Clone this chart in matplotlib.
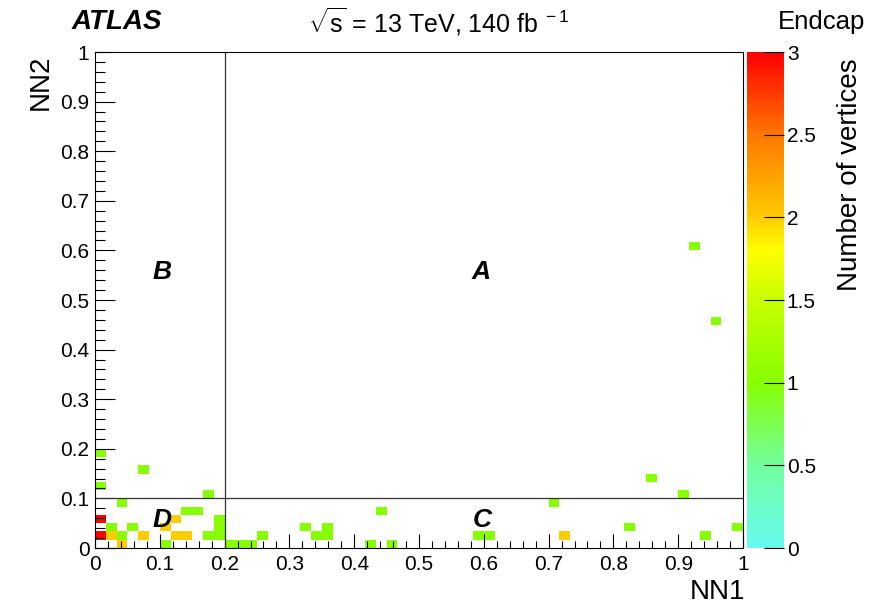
import numpy as np
import matplotlib
matplotlib.use("Agg")
import matplotlib.pyplot as plt
from matplotlib.colors import LinearSegmentedColormap

plt.rcParams['font.family'] = ['Liberation Sans', 'DejaVu Sans']
plt.rcParams['mathtext.fontset'] = 'custom'
plt.rcParams['mathtext.rm'] = 'Liberation Sans'
plt.rcParams['mathtext.it'] = 'Liberation Sans:italic'

# ---- data: occupied bins (NN1, NN2, number of vertices) ----
nn1 = [0.008, 0.008, 0.008, 0.008,
       0.025, 0.025,
       0.042, 0.042, 0.042,
       0.058,
       0.075, 0.075,
       0.108, 0.108,
       0.125, 0.125,
       0.142, 0.142,
       0.158,
       0.175, 0.175,
       0.192, 0.192, 0.192,
       0.208, 0.225, 0.242, 0.258,
       0.325, 0.342, 0.358, 0.358,
       0.425, 0.442, 0.458,
       0.592, 0.608,
       0.708, 0.725,
       0.825, 0.858, 0.908, 0.925, 0.942, 0.958, 0.992]
nn2 = [0.025, 0.058, 0.125, 0.192,
       0.025, 0.042,
       0.008, 0.025, 0.092,
       0.042,
       0.025, 0.158,
       0.008, 0.042,
       0.025, 0.058,
       0.025, 0.075,
       0.075,
       0.025, 0.108,
       0.025, 0.042, 0.058,
       0.008, 0.008, 0.008, 0.025,
       0.042, 0.025, 0.025, 0.042,
       0.008, 0.075, 0.008,
       0.025, 0.025,
       0.092, 0.025,
       0.042, 0.142, 0.108, 0.608, 0.025, 0.458, 0.042]
n_vertices = [3, 3, 1, 1,
              2, 1,
              2, 1, 1,
              1,
              2, 1,
              1, 2,
              2, 2,
              2, 1,
              1,
              1, 1,
              1, 1, 1,
              1, 1, 1, 1,
              1, 1, 1, 1,
              1, 1, 1,
              1, 1,
              1, 2,
              1, 1, 1, 1, 1, 1, 1]

n_bins = 60
region_labels = ["A", "B", "C", "D"]
region_x = [0.596, 0.103, 0.597, 0.103]
region_y = [0.556, 0.556, 0.056, 0.056]
cut_nn1 = 0.2
cut_nn2 = 0.1

# ---- colormap ----
cmap = LinearSegmentedColormap.from_list("atlas", [
    (0.0, (0.40, 0.98, 0.94)),
    (0.5 / 3, (0.45, 1.00, 0.62)),
    (1.0 / 3, (0.53, 1.00, 0.00)),
    (1.5 / 3, (0.78, 1.00, 0.00)),
    (1.8 / 3, (1.00, 1.00, 0.00)),
    (2.0 / 3, (1.00, 0.80, 0.00)),
    (2.5 / 3, (1.00, 0.47, 0.00)),
    (1.0, (1.00, 0.00, 0.00)),
])

W, H = 874, 609
fig = plt.figure(figsize=(W / 100, H / 100), dpi=100)
ax = fig.add_axes([95 / W, (H - 548) / H, 648 / W, 496 / H])
cax = fig.add_axes([747 / W, (H - 548) / H, 37 / W, 496 / H])

h, xe, ye, im = ax.hist2d(nn1, nn2, bins=n_bins, range=[[0, 1], [0, 1]],
                          weights=n_vertices, cmin=0.5, cmap=cmap,
                          vmin=0, vmax=3)

ax.axvline(cut_nn1, color='#333333', lw=0.9)
ax.axhline(cut_nn2, color='#333333', lw=0.9)

for lab, x, y in zip(region_labels, region_x, region_y):
    ax.text(x, y, lab, fontsize=19, fontweight='bold', fontstyle='italic',
            ha='center', va='center')

ax.set_xlim(0, 1)
ax.set_ylim(0, 1)
ax.set_xticks(np.arange(0, 1.01, 0.1))
ax.set_xticks(np.arange(0, 1.001, 0.02), minor=True)
ax.set_yticks(np.arange(0, 1.01, 0.1))
ax.set_yticks(np.arange(0, 1.001, 0.02), minor=True)
ax.set_xticklabels(["0", "0.1", "0.2", "0.3", "0.4", "0.5", "0.6", "0.7", "0.8", "0.9", "1"])
ax.set_yticklabels(["0", "0.1", "0.2", "0.3", "0.4", "0.5", "0.6", "0.7", "0.8", "0.9", "1"])
ax.tick_params(axis='x', which='major', direction='in', length=10, width=0.8,
               labelsize=15, pad=5)
ax.tick_params(axis='x', which='minor', direction='in', length=5, width=0.8)
ax.tick_params(axis='y', which='major', direction='in', length=14.4, width=0.8,
               labelsize=15, pad=4)
ax.tick_params(axis='y', which='minor', direction='in', length=7.2, width=0.8)
for s in ax.spines.values():
    s.set_linewidth(0.8)

cb = fig.colorbar(im, cax=cax)
cb.outline.set_visible(False)
cb.set_ticks([0, 0.5, 1, 1.5, 2, 2.5, 3])
cb.set_ticklabels(["0", "0.5", "1", "1.5", "2", "2.5", "3"])
cax.tick_params(direction='in', length=14.4, width=0.8, labelsize=15, pad=2)
cax.minorticks_off()

fig.text(850 / W, (H - 58) / H, "Number of vertices", rotation=90,
         ha='center', va='top', fontsize=20)
fig.text(41 / W, (H - 55) / H, "NN2", rotation=90, ha='center', va='top',
         fontsize=20)
fig.text(745 / W, (H - 592) / H, "NN1", ha='right', va='center', fontsize=20)

fig.text(117 / W, (H - 22) / H, "ATLAS", ha='center', va='center',
         fontsize=20, fontweight='bold', fontstyle='italic')
fig.text(439 / W, (H - 22) / H, r"$\sqrt{\mathrm{s}}$ = 13 TeV, 140 fb$^{\ -1}$",
         ha='center', va='center', fontsize=18)
fig.text(865 / W, (H - 22) / H, "Endcap", ha='right', va='center', fontsize=18.5)

fig.savefig("out.png", dpi=100)
